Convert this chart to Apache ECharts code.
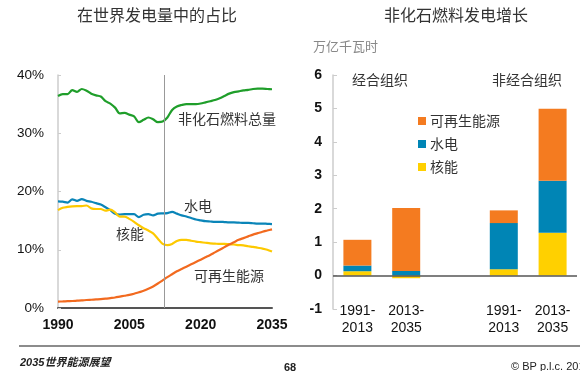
<!DOCTYPE html>
<html><head><meta charset="utf-8">
<script src="https://cdn.jsdelivr.net/npm/echarts@6/dist/echarts.min.js"></script>
<style>html,body{margin:0;padding:0;background:#fff}#c{width:580px;height:371px}</style>
</head><body><div id="c"></div>
<script>
const years = [1990,1991,1992,1993,1994,1995,1996,1997,1998,1999,2000,2001,2002,2003,2004,2005,2006,2007,2008,2009,2010,2011,2012,2013,2014,2015,2016,2017,2018,2019,2020,2021,2022,2023,2024,2025,2026,2027,2028,2029,2030,2031,2032,2033,2034,2035];
const nonFossil = [36.4,36.7,36.7,37.4,37.1,37.6,37.3,36.8,36.5,36.3,35.5,35.1,34.4,33.4,33.5,33.2,32.9,31.9,32.3,32.7,32.4,31.9,32.0,32.7,34.0,34.6,34.85,35.0,35.0,35.0,35.1,35.3,35.5,35.7,36.0,36.4,36.8,37.05,37.2,37.35,37.45,37.6,37.65,37.65,37.6,37.55];
const hydroShare = [18.3,18.25,18.1,18.65,18.4,18.7,18.4,18.25,18.0,17.75,17.3,16.8,16.2,16.05,16.1,16.1,16.1,15.6,16.0,16.1,15.9,16.2,16.25,16.3,16.5,16.2,15.9,15.7,15.45,15.2,15.05,14.9,14.85,14.8,14.8,14.75,14.7,14.7,14.65,14.6,14.6,14.55,14.5,14.5,14.45,14.4];
const nuclearShare = [16.8,17.2,17.35,17.45,17.5,17.5,17.6,17.1,17.0,17.0,16.7,16.9,16.4,15.7,15.7,15.3,14.8,14.2,13.7,13.3,12.8,11.9,11.0,10.8,11.0,11.5,11.7,11.7,11.55,11.4,11.3,11.2,11.1,11.05,11.0,11.0,10.95,10.9,10.8,10.75,10.6,10.5,10.35,10.2,10.0,9.7];
const renewShare = [1.1,1.13,1.17,1.2,1.25,1.3,1.37,1.42,1.47,1.52,1.6,1.7,1.8,1.95,2.1,2.25,2.45,2.7,2.95,3.3,3.7,4.2,4.75,5.3,5.8,6.3,6.7,7.1,7.5,7.9,8.3,8.7,9.1,9.55,10.0,10.45,10.9,11.3,11.7,12.0,12.3,12.6,12.85,13.1,13.3,13.5];
const splitYear = 2012.3;

const periods = ['1991-\n2013','2013-\n2035','','1991-\n2013','2013-\n2035'];
const nuclearGrowth = [0.13,-0.08,null,0.19,1.28];
const hydroGrowth = [0.17,0.14,null,1.38,1.56];
const renewGrowth = [0.77,1.88,null,0.38,2.15];

const C = {green:'#1f9e2a', blue:'#0a85b8', yellow:'#fdc900', orange:'#f26a1f',
           bOrange:'#f47b20', bBlue:'#0085b5', bYellow:'#ffd000'};
const font = 'Arial, "Liberation Sans", "Noto Sans CJK SC", sans-serif';
const cjk = '"Noto Sans CJK SC", sans-serif';

const pairs = arr => years.map((y,i)=>[y,arr[i]]);
const lineS = (name, arr, color, extra) => Object.assign({
  name, type:'line', xAxisIndex:0, yAxisIndex:0, data:pairs(arr), showSymbol:false,
  smooth:0.3, lineStyle:{color, width:2.2}, itemStyle:{color}, z:3, silent:true
}, extra||{});

const chart = echarts.init(document.getElementById('c'), null, {renderer:'canvas'});
chart.setOption({
  animation:false,
  textStyle:{fontFamily:font},
  title:[
    {text:'在世界发电量中的占比', left:152, top:2, textAlign:'center',
     textStyle:{fontFamily:cjk, fontSize:16, fontWeight:'normal', color:'#333'}},
    {text:'非化石燃料发电增长', left:451, top:2, textAlign:'center',
     textStyle:{fontFamily:cjk, fontSize:16, fontWeight:'normal', color:'#333'}}
  ],
  legend:{
    data:['可再生能源','水电','核能'], orient:'vertical', left:413, top:109,
    itemWidth:8, itemHeight:8, itemGap:9, icon:'rect', itemStyle:{borderWidth:0},
    textStyle:{fontFamily:cjk, fontSize:14, color:'#333', padding:[0,0,0,-1]}, selectedMode:false
  },
  grid:[
    {left:58, top:75, width:214, height:233},
    {left:333, top:75, width:244, height:234}
  ],
  xAxis:[
    {type:'value', gridIndex:0, min:1990, max:2035, interval:15,
     axisLine:{show:true, lineStyle:{color:'#555', width:2}}, axisTick:{show:false},
     splitLine:{show:false},
     axisLabel:{fontSize:14, fontWeight:'bold', color:'#111', margin:10, fontFamily:font,
       formatter: v => String(v)}},
    {type:'category', gridIndex:1, data:periods, position:'bottom',
     axisLine:{show:false}, axisTick:{show:false},
     axisLabel:{fontSize:14, color:'#111', margin:-6, lineHeight:17, fontFamily:font, interval:0}}
  ],
  yAxis:[
    {type:'value', gridIndex:0, min:0, max:40, interval:10,
     axisLine:{show:true, lineStyle:{color:'#ccc', width:1.5}},
     axisTick:{show:true, inside:true, length:3, lineStyle:{color:'#ccc'}},
     splitLine:{show:false},
     axisLabel:{formatter:'{value}%', fontSize:13.5, color:'#111', margin:14, fontFamily:font}},
    {type:'value', gridIndex:1, min:-1, max:6, interval:1,
     axisLine:{show:true, lineStyle:{color:'#ccc', width:1.5}},
     axisTick:{show:true, inside:true, length:4, lineStyle:{color:'#ccc'}},
     splitLine:{show:false},
     axisLabel:{fontSize:14, fontWeight:'bold', color:'#111', margin:11, fontFamily:font}}
  ],
  series:[
    lineS('非化石燃料总量', nonFossil, C.green, {
      markLine:{silent:true, symbol:'none', label:{show:false},
        lineStyle:{color:'#999', width:1, type:'solid'}, data:[{xAxis:splitYear}]}}),
    lineS('水电线', hydroShare, C.blue),
    lineS('核能线', nuclearShare, C.yellow),
    lineS('可再生能源线', renewShare, C.orange),
    {name:'核能', type:'bar', xAxisIndex:1, yAxisIndex:1, stack:'g', data:nuclearGrowth,
     barWidth:28, itemStyle:{color:C.bYellow}, silent:true,
     markLine:{silent:true, symbol:'none', label:{show:false},
       lineStyle:{color:'#555', width:1.5, type:'solid'}, data:[{yAxis:0}]}},
    {name:'水电', type:'bar', xAxisIndex:1, yAxisIndex:1, stack:'g', data:hydroGrowth,
     barWidth:28, itemStyle:{color:C.bBlue}, silent:true},
    {name:'可再生能源', type:'bar', xAxisIndex:1, yAxisIndex:1, stack:'g', data:renewGrowth,
     barWidth:28, itemStyle:{color:C.bOrange}, silent:true}
  ],
  graphic:[
    {type:'text', left:178, top:112, style:{text:'非化石燃料总量', font:'14px '+cjk, fill:'#333'}},
    {type:'text', left:184, top:199, style:{text:'水电', font:'14px '+cjk, fill:'#333'}},
    {type:'text', left:116, top:227, style:{text:'核能', font:'14px '+cjk, fill:'#333'}},
    {type:'text', left:194, top:269, style:{text:'可再生能源', font:'14px '+cjk, fill:'#333'}},
    {type:'text', left:313, top:40, style:{text:'万亿千瓦时', font:'13px '+cjk, fill:'#888'}},
    {type:'text', left:352, top:73, style:{text:'经合组织', font:'14px '+cjk, fill:'#333'}},
    {type:'text', left:492, top:73, style:{text:'非经合组织', font:'14px '+cjk, fill:'#333'}},
    {type:'line', shape:{x1:19, y1:346, x2:580, y2:346}, style:{stroke:'#666', lineWidth:1.5}},
    {type:'text', left:20, top:357, style:{text:'2035世界能源展望', font:'italic bold 11px '+font, fill:'#222'}},
    {type:'text', left:284, top:362, style:{text:'68', font:'bold 11px '+font, fill:'#222'}},
    {type:'text', left:511, top:361, style:{text:'© BP p.l.c. 2014', font:'11px '+font, fill:'#222'}}
  ]
});
</script></body></html>
